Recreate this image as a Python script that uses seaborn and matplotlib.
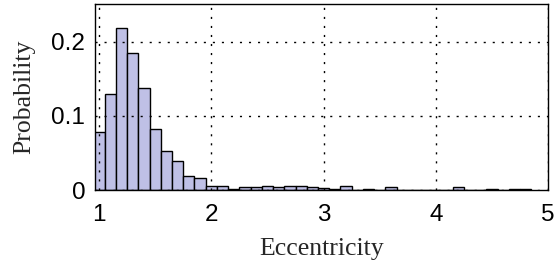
import numpy as np
import pandas as pd
import matplotlib
matplotlib.use("Agg")
import matplotlib.pyplot as plt
import seaborn as sns

# bin centres (eccentricity) and probability per bin
bin_centres = [1.0, 1.1, 1.2, 1.3, 1.4, 1.5, 1.6, 1.7, 1.8, 1.9,
               2.0, 2.1, 2.2, 2.3, 2.4, 2.5, 2.6, 2.7, 2.8, 2.9,
               3.0, 3.1, 3.2, 3.3, 3.4, 3.5, 3.6, 3.7, 3.8, 3.9,
               4.0, 4.1, 4.2, 4.3, 4.4, 4.5, 4.6, 4.7, 4.8]
probability = [0.078, 0.130, 0.219, 0.185, 0.137, 0.082, 0.053, 0.039, 0.019, 0.016,
               0.006, 0.005, 0.002, 0.004, 0.004, 0.006, 0.004, 0.006, 0.006, 0.004,
               0.003, 0.002, 0.005, 0.0, 0.002, 0.0, 0.004, 0.0, 0.0, 0.0,
               0.0, 0.0, 0.004, 0.0, 0.0, 0.002, 0.0, 0.002, 0.002]
x_ticks = [1, 2, 3, 4, 5]
y_ticks = [0, 0.1, 0.2]
y_ticklabels = ['0', '0.1', '0.2']

df = pd.DataFrame({'ecc': bin_centres, 'p': probability})

sns.set_style('white')
plt.rcParams['font.family'] = ['Liberation Sans', 'DejaVu Sans']

fig = plt.figure(figsize=(5.56, 2.68), dpi=100)
ax = fig.add_axes([0.171, 0.291, 0.815, 0.694])

sns.histplot(data=df, x='ecc', weights='p', binwidth=0.1, binrange=(0.95, 4.85),
             stat='count', color='#bfc0e6', alpha=1, edgecolor='black',
             linewidth=1, ax=ax)

ax.set_xlim(0.965, 4.995)
ax.set_ylim(0, 0.251)
ax.set_xticks(x_ticks)
ax.set_xticklabels([str(t) for t in x_ticks])
ax.set_yticks(y_ticks)
ax.set_yticklabels(y_ticklabels)
ax.tick_params(direction='in', length=0, labelsize=17.5, colors='black')
ax.tick_params(axis='y', pad=7)
ax.tick_params(axis='x', pad=10)
ax.grid(True, linestyle=(0, (1.5, 5)), color='black', linewidth=1)
ax.set_axisbelow(False)
for s in ax.spines.values():
    s.set_color('black')
    s.set_linewidth(1)

ax.set_xlabel('Eccentricity', family='Liberation Serif', fontsize=18.5, labelpad=9)
ax.set_ylabel('Probability', family='Liberation Serif', fontsize=18.5, labelpad=12)

fig.savefig('out.png', dpi=100)
